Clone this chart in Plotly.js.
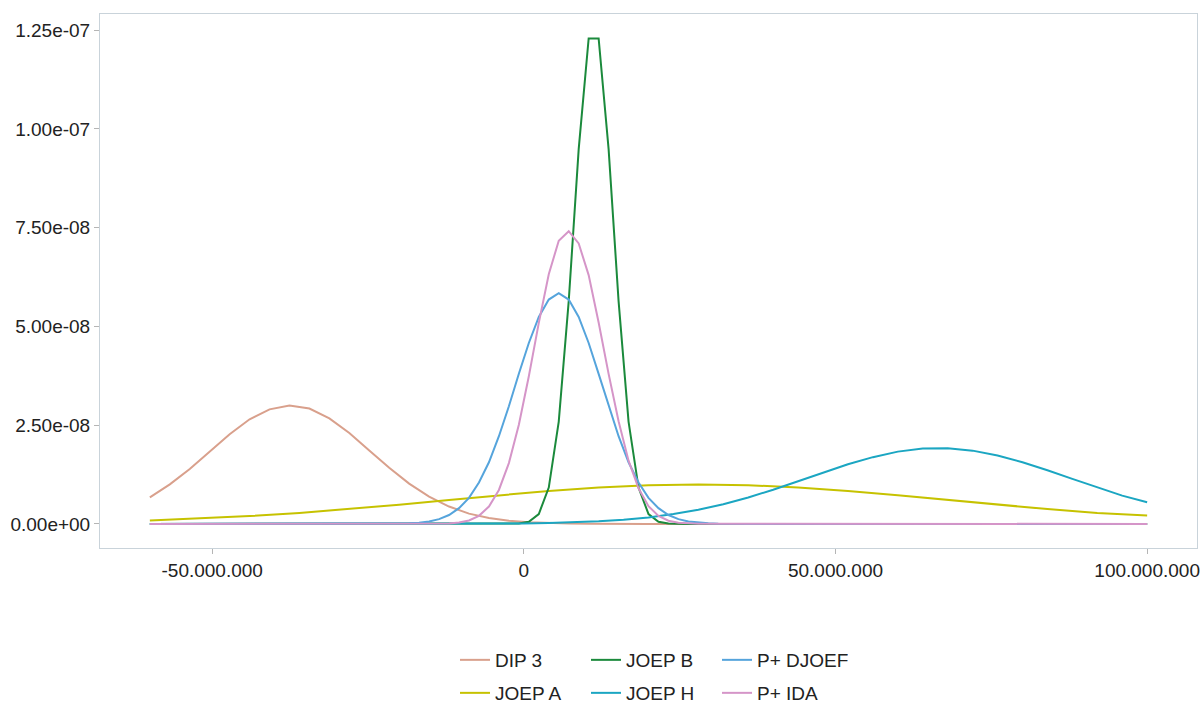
<!DOCTYPE html>
<html>
<head>
<meta charset="utf-8">
<script src="https://cdn.plot.ly/plotly-3.0.1.min.js"></script>
<style>html,body{margin:0;padding:0;background:#fff;}#chart{width:1200px;height:705px;}</style>
</head>
<body>
<div id="chart"></div>
<script>
// x values in millions, y values in units of 1e-8
const MILLION = 1e6;
const E8 = 1e-8;

const dip3X = [-60,-56.8,-53.6,-50.4,-47.2,-44.0,-40.8,-37.6,-34.4,-31.2,-28.0,-24.8,-21.6,-18.4,-15.2,-12.0,-8.8,-5.6,-2.4,0.8,4.0,7.2,10.4,13.6,20,100];
const dip3Y = [0.67,1.00,1.39,1.83,2.27,2.65,2.90,3.00,2.92,2.67,2.30,1.86,1.42,1.02,0.69,0.44,0.26,0.15,0.078,0.039,0.018,0.008,0.003,0.001,0,0];

const joepAX = [-60,-52,-44,-36,-28,-20,-12,-4,4,12,20,28,36,44,52,60,68,76,84,92,100];
const joepAY = [0.089,0.135,0.198,0.278,0.375,0.487,0.607,0.726,0.835,0.923,0.98,1.0,0.98,0.923,0.835,0.726,0.607,0.487,0.375,0.278,0.21];

const joepBX = [-60,-4.0,-2.4,-0.8,0.8,2.4,4.0,5.6,7.2,8.8,10.4,12.0,13.6,15.2,16.8,18.4,20.0,21.6,23.2,24.8,26.4,100];
const joepBY = [0,0,0.001,0.009,0.053,0.25,0.92,2.59,5.64,9.49,12.29,12.29,9.49,5.64,2.59,0.92,0.25,0.053,0.009,0.001,0,0];

const joepHX = [-60,-20,-10,0,4,8,12,16,20,24,28,32,36,40,44,48,52,56,60,64,68,72,76,80,84,88,92,96,100];
const joepHY = [0,0.0004,0.0025,0.013,0.023,0.040,0.066,0.107,0.165,0.248,0.358,0.498,0.669,0.866,1.08,1.30,1.51,1.69,1.83,1.91,1.915,1.855,1.73,1.56,1.36,1.14,0.92,0.716,0.55];

const djoefX = [-60,-21.6,-20.0,-18.4,-16.8,-15.2,-13.6,-12.0,-10.4,-8.8,-7.2,-5.6,-4.0,-2.4,-0.8,0.8,2.4,4.0,5.6,7.2,8.8,10.4,12.0,13.6,15.2,16.8,18.4,20.0,21.6,23.2,24.8,26.4,28.0,29.6,31.2,36,100];
const djoefY = [0,0.002,0.006,0.014,0.030,0.062,0.121,0.225,0.40,0.66,1.05,1.56,2.22,2.98,3.80,4.58,5.24,5.68,5.84,5.68,5.24,4.58,3.80,2.98,2.22,1.56,1.05,0.66,0.40,0.225,0.121,0.062,0.030,0.014,0.006,0,0];

const idaX = [-60,-13.6,-12.0,-10.4,-8.8,-7.2,-5.6,-4.0,-2.4,-0.8,0.8,2.4,4.0,5.6,7.2,8.8,10.4,12.0,13.6,15.2,16.8,18.4,20.0,21.6,23.2,24.8,26.4,28.0,100];
const idaY = [0,0.004,0.012,0.034,0.087,0.205,0.44,0.86,1.54,2.51,3.74,5.09,6.32,7.17,7.41,7.1,6.3,5.1,3.8,2.6,1.6,0.9,0.45,0.2,0.08,0.03,0.01,0.003,0];

const seriesNames = ["DIP 3","JOEP A","JOEP B","JOEP H","P+ DJOEF","P+ IDA"];
const seriesColors = ["#d9a08c","#c6c200","#1b8a3c","#1ba6c2","#55a4dc","#d595c8"];
const seriesLegend = ["legend","legend2","legend","legend2","legend","legend2"];
const seriesData = [[dip3X,dip3Y],[joepAX,joepAY],[joepBX,joepBY],[joepHX,joepHY],[djoefX,djoefY],[idaX,idaY]];

const yTickVals = [0,2.5,5,7.5,10,12.5];
const yTickText = ["0.00e+00","2.50e-08","5.00e-08","7.50e-08","1.00e-07","1.25e-07"];
const xTickVals = [-50,0,50,100];
const xTickText = ["-50.000.000","0","50.000.000","100.000.000"];

const FONT = "Liberation Sans, Arial, sans-serif";

const traces = seriesNames.map((name,i)=>({
  type:"scatter", mode:"lines", name:name,
  x: seriesData[i][0].map(v=>v*MILLION),
  y: seriesData[i][1].map(v=>v*E8),
  line:{color:seriesColors[i], width:2},
  legend: seriesLegend[i],
  hoverinfo:"x+y+name"
}));

const legendCommon = {
  orientation:"h", xref:"container", yref:"container",
  xanchor:"left", yanchor:"top",
  font:{family:FONT,size:19,color:"#222"},
  bgcolor:"rgba(0,0,0,0)", borderwidth:0,
  entrywidth:86, entrywidthmode:"pixels", traceorder:"normal"
};

const layout = {
  width:1200, height:705,
  paper_bgcolor:"#fff", plot_bgcolor:"#fff",
  margin:{l:100,r:3,t:14,b:157},
  font:{family:FONT,size:19,color:"#222"},
  showlegend:true,
  legend: Object.assign({}, legendCommon, {x:455/1200, y:1-641/705}),
  legend2: Object.assign({}, legendCommon, {x:455/1200, y:1-674/705}),
  xaxis:{
    range:[-68*MILLION,108*MILLION],
    tickvals: xTickVals.map(v=>v*MILLION), ticktext: xTickText,
    showgrid:false, zeroline:false,
    showline:true, mirror:true, linecolor:"#c9d3da", linewidth:1,
    ticks:"outside", ticklen:5, tickcolor:"#b5b5b5",
    tickfont:{family:FONT,size:19,color:"#222"}
  },
  yaxis:{
    range:[-6.1e-9,1.291e-7],
    tickvals: yTickVals.map(v=>v*E8), ticktext: yTickText,
    showgrid:false, zeroline:false,
    showline:true, mirror:true, linecolor:"#c9d3da", linewidth:1,
    ticks:"outside", ticklen:5, tickcolor:"#b5b5b5",
    tickfont:{family:FONT,size:19,color:"#222"}
  }
};

Plotly.newPlot("chart", traces, layout, {displayModeBar:false, staticPlot:true});
</script>
</body>
</html>
